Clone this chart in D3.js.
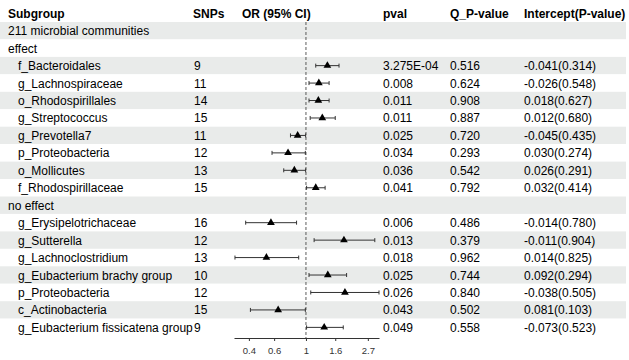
<!DOCTYPE html>
<html>
<head>
<meta charset="utf-8">
<script src="https://cdn.jsdelivr.net/npm/d3@7"></script>
<style>
  body { margin: 0; background: #fff; }
  text { font-family: "Liberation Sans", Arial, sans-serif; }
</style>
</head>
<body>
<svg id="canvas" width="629" height="360"></svg>
<script>
// - the table rows, top to bottom (group headers have no estimate)
// - orVals / lowerVals / upperVals are the odds ratios and 95% CI
let subgroups = [
  "211 microbial communities", "effect",
  "f_Bacteroidales", "g_Lachnospiraceae", "o_Rhodospirillales", "g_Streptococcus",
  "g_Prevotella7", "p_Proteobacteria", "o_Mollicutes", "f_Rhodospirillaceae",
  "no effect",
  "g_Erysipelotrichaceae", "g_Sutterella", "g_Lachnoclostridium",
  "g_Eubacterium brachy group", "p_Proteobacteria", "c_Actinobacteria",
  "g_Eubacterium fissicatena group"
];
let groupRows = ["211 microbial communities", "effect", "no effect"];

let snps = ["", "", "9", "11", "14", "15", "11", "12", "13", "15", "", "16", "12", "13", "10", "12", "15", "9"];
let orVals = [null, null, 1.41, 1.23, 1.22, 1.30, 0.875, 0.75, 0.83, 1.17, null, 0.57, 1.84, 0.53, 1.42, 1.87, 0.64, 1.34];
let lowerVals = [null, null, 1.17, 1.05, 1.05, 1.07, 0.78, 0.58, 0.70, 1.01, null, 0.38, 1.14, 0.32, 1.05, 1.08, 0.41, 1.01];
let upperVals = [null, null, 1.70, 1.45, 1.45, 1.60, 0.995, 0.99, 0.995, 1.36, null, 0.86, 3.02, 0.89, 1.92, 3.23, 0.99, 1.82];
let pvals = ["", "", "3.275E-04", "0.008", "0.011", "0.011", "0.025", "0.034", "0.036", "0.041", "", "0.006", "0.013", "0.018", "0.025", "0.026", "0.043", "0.049"];
let qPvals = ["", "", "0.516", "0.624", "0.908", "0.887", "0.720", "0.293", "0.542", "0.792", "", "0.486", "0.379", "0.962", "0.744", "0.840", "0.502", "0.558"];
let intercepts = ["", "", "-0.041(0.314)", "-0.026(0.548)", "0.018(0.627)", "0.012(0.680)", "-0.045(0.435)", "0.030(0.274)", "0.026(0.291)", "0.032(0.414)", "", "-0.014(0.780)", "-0.011(0.904)", "0.014(0.825)", "0.092(0.294)", "-0.038(0.505)", "0.081(0.103)", "-0.073(0.523)"];

let headers = ["Subgroup", "SNPs", "OR (95% CI)", "pval", "Q_P-value", "Intercept(P-value)"];
let tickVals = [0.4, 0.6, 1, 1.6, 2.7];
let xDomain = [0.315, 3.23];

let canvas = d3.select("#canvas");

let rowTop = 22;
let rowH = 17.45;
let colX = [8, 193, 242, 383, 450, 524];
let axisY = 338;

let x = d3.scaleLog().domain(xDomain).range([234, 379]);
let rowY = (i) => rowTop + rowH * i + rowH / 2;

// alternating row bands
canvas.selectAll("rect.band")
  .data(subgroups)
  .enter()
  .append("rect")
  .attr("class", "band")
  .attr("x", 0)
  .attr("y", (d, i) => rowTop + rowH * i)
  .attr("width", 626)
  .attr("height", rowH)
  .attr("fill", (d, i) => i % 2 === 0 ? "#e9ebea" : "#ffffff");

// header
canvas.selectAll("text.header")
  .data(headers)
  .enter()
  .append("text")
  .attr("class", "header")
  .attr("x", (d, i) => colX[i])
  .attr("y", 13.5)
  .attr("dominant-baseline", "central")
  .attr("font-size", 12)
  .attr("font-weight", "bold")
  .attr("fill", "#000")
  .text((d) => d);

let addColumn = (values, xPos, cls) => {
  canvas.selectAll("text." + cls)
    .data(values)
    .enter()
    .append("text")
    .attr("class", cls)
    .attr("x", (d, i) => typeof xPos === "function" ? xPos(i) : xPos)
    .attr("y", (d, i) => rowY(i) + 0.5)
    .attr("dominant-baseline", "central")
    .attr("font-size", 12)
    .attr("fill", "#000")
    .text((d) => d);
};

addColumn(subgroups, (i) => groupRows.includes(subgroups[i]) ? colX[0] : 18, "label");
addColumn(snps, 194, "snps");
addColumn(pvals, colX[3], "pval");
addColumn(qPvals, colX[4], "qp");
addColumn(intercepts, colX[5], "intercept");

// reference line at OR = 1
canvas.append("line")
  .attr("x1", x(1)).attr("x2", x(1))
  .attr("y1", rowTop).attr("y2", axisY)
  .attr("stroke", "#333")
  .attr("stroke-width", 0.8)
  .attr("stroke-dasharray", "3,2");

// confidence intervals
let ciRows = subgroups.map((d, i) => i).filter((i) => orVals[i] !== null);

let ci = canvas.selectAll("g.ci")
  .data(ciRows)
  .enter()
  .append("g")
  .attr("class", "ci");

ci.append("line")
  .attr("x1", (i) => x(lowerVals[i]))
  .attr("x2", (i) => x(upperVals[i]))
  .attr("y1", (i) => rowY(i))
  .attr("y2", (i) => rowY(i))
  .attr("stroke", "#333")
  .attr("stroke-width", 1);

ci.append("line")
  .attr("x1", (i) => x(lowerVals[i]))
  .attr("x2", (i) => x(lowerVals[i]))
  .attr("y1", (i) => rowY(i) - 2)
  .attr("y2", (i) => rowY(i) + 2)
  .attr("stroke", "#333");

ci.append("line")
  .attr("x1", (i) => x(upperVals[i]))
  .attr("x2", (i) => x(upperVals[i]))
  .attr("y1", (i) => rowY(i) - 2)
  .attr("y2", (i) => rowY(i) + 2)
  .attr("stroke", "#333");

ci.append("path")
  .attr("d", d3.symbol().type(d3.symbolTriangle).size(26))
  .attr("transform", (i) => "translate(" + x(orVals[i]) + "," + rowY(i) + ")")
  .attr("fill", "#000");

// x axis
let xAxis = d3.axisBottom(x)
  .tickValues(tickVals)
  .tickFormat((d) => d)
  .tickSize(3)
  .tickSizeOuter(0)
  .tickPadding(6);

let axisG = canvas.append("g")
  .attr("transform", "translate(0," + axisY + ")")
  .call(xAxis);

axisG.select(".domain").attr("stroke", "#333");
axisG.selectAll(".tick line").attr("stroke", "#333");
axisG.selectAll(".tick text")
  .attr("fill", "#333")
  .attr("font-size", 9.5)
  .attr("font-family", "Liberation Sans, Arial, sans-serif");
</script>
</body>
</html>
